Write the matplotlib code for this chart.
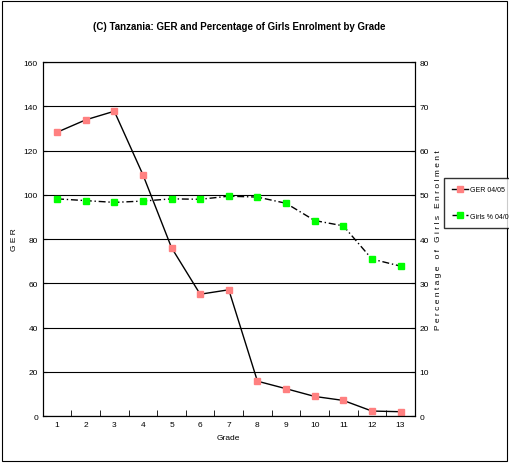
import matplotlib
matplotlib.use("Agg")
import matplotlib.pyplot as plt
from matplotlib.patches import Rectangle

grades = list(range(1, 14))
ger = [128.3, 133.9, 137.8, 109.1, 76.1, 55.1, 57.1, 15.8, 12.4, 8.9, 7.1, 2.3, 2.0]
girls = [49.1, 48.7, 48.3, 48.6, 49.1, 49.0, 49.7, 49.5, 48.1, 44.2, 43.0, 35.5, 33.9]

plt.rcParams['font.family'] = ['Liberation Sans', 'DejaVu Sans']
fig = plt.figure(figsize=(5.09, 4.64), dpi=100)
fig.patches.append(Rectangle((0.004, 0.004), 0.992, 0.992, transform=fig.transFigure,
                             fill=False, edgecolor='black', lw=0.8))
ax = fig.add_axes([0.084, 0.101, 0.731, 0.763])
ax2 = ax.twinx()
l1, = ax.plot(grades, ger, color='black', lw=1, marker='s', ms=4.5,
              mfc='#ff8080', mec='#ff8080', label='GER 04/05')
l2, = ax2.plot(grades, girls, color='black', lw=1, ls=(0, (5, 2, 1, 2)), marker='s', ms=4.5,
               mfc='#00ff00', mec='#00ff00', label='Girls % 04/05')
ax.set_xlim(0.5, 13.5)
ax.set_ylim(0, 160)
ax2.set_ylim(0, 80)
ax.set_yticks(range(0, 161, 20))
ax2.set_yticks(range(0, 81, 10))
ax.set_xticks(grades)
ax.set_xticks([x + 0.5 for x in range(0, 14)], minor=True)
ax.tick_params(axis='x', which='major', length=0, labelsize=6)
ax.tick_params(axis='x', which='minor', length=4, direction='in')
ax.tick_params(axis='y', labelsize=6, length=3, direction='in')
ax2.tick_params(axis='y', labelsize=6, length=3, direction='in')
ax.grid(axis='y', color='black', lw=0.8)
ax.set_xlabel('Grade', fontsize=6)
ax.set_ylabel('G E R', fontsize=6)
ax2.set_ylabel('P e r c e n t a g e   o f   G i r l s   E n r o l m e n t', fontsize=6)
fig.text(0.47, 0.935, '(C) Tanzania: GER and Percentage of Girls Enrolment by Grade',
         ha='center', fontsize=7, fontweight='bold')
fig.legend(handles=[l1, l2], loc='center left', bbox_to_anchor=(0.872, 0.56),
           fontsize=5, frameon=True, fancybox=False, edgecolor='black',
           labelspacing=2.8, handlelength=2.3, borderpad=1.2, handletextpad=0.2,
           borderaxespad=0)
fig.savefig('out.png', dpi=100)
